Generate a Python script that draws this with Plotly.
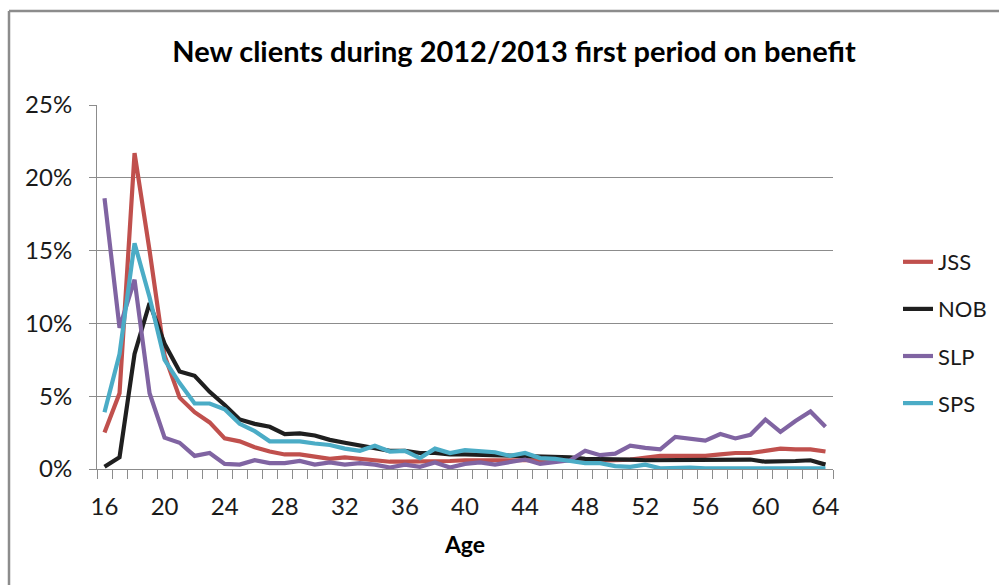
import plotly.graph_objects as go

ages = list(range(16, 65))

jss = [2.5, 5.2, 21.7, 15.0, 7.8, 4.9, 3.9, 3.2, 2.1, 1.9, 1.5, 1.2, 1.0,
       1.0, 0.85, 0.7, 0.8, 0.7, 0.6, 0.5, 0.5, 0.5, 0.5, 0.55, 0.6, 0.6,
       0.6, 0.65, 0.6, 0.65, 0.6, 0.6, 0.55, 0.55, 0.6, 0.65, 0.8, 0.9,
       0.9, 0.9, 0.9, 1.0, 1.1, 1.1, 1.25, 1.4, 1.35, 1.35, 1.2]
nob = [0.15, 0.8, 7.9, 11.4, 8.6, 6.7, 6.4, 5.3, 4.4, 3.4, 3.1, 2.9, 2.4,
       2.45, 2.3, 2.0, 1.8, 1.6, 1.4, 1.25, 1.25, 1.1, 1.1, 1.0, 1.0, 0.98,
       0.9, 0.9, 0.85, 0.9, 0.85, 0.8, 0.7, 0.7, 0.7, 0.65, 0.6, 0.6, 0.6,
       0.6, 0.6, 0.6, 0.6, 0.65, 0.5, 0.5, 0.55, 0.6, 0.3]
slp = [18.6, 9.7, 13.0, 5.2, 2.15, 1.8, 0.9, 1.1, 0.35, 0.3, 0.6, 0.4, 0.4,
       0.55, 0.3, 0.45, 0.3, 0.4, 0.3, 0.1, 0.3, 0.15, 0.45, 0.1, 0.35, 0.45,
       0.3, 0.45, 0.65, 0.35, 0.45, 0.6, 1.25, 0.95, 1.05, 1.6, 1.45, 1.35,
       2.2, 2.05, 1.95, 2.4, 2.1, 2.35, 3.4, 2.55, 3.3, 3.95, 2.9]
sps = [3.9, 7.9, 15.5, 11.8, 7.5, 5.9, 4.5, 4.5, 4.1, 3.1, 2.6, 1.9, 1.9,
       1.9, 1.75, 1.65, 1.4, 1.25, 1.6, 1.2, 1.25, 0.75, 1.4, 1.1, 1.3, 1.25,
       1.15, 0.9, 1.1, 0.75, 0.7, 0.55, 0.4, 0.4, 0.2, 0.15, 0.3, 0.05, 0.1,
       0.1, 0.05, 0.05, 0.05, 0.05, 0.05, 0.05, 0.05, 0.05, 0.05]

series = [("JSS", jss, "#C0504D"), ("NOB", nob, "#1F1F1F"),
          ("SLP", slp, "#8064A2"), ("SPS", sps, "#4BACC6")]

x_tick_vals = list(range(16, 65, 4))
y_tick_vals = [0, 5, 10, 15, 20, 25]
y_tick_text = ["0%", "5%", "10%", "15%", "20%", "25%"]

FONT = "Lato, 'Open Sans', sans-serif"
W, H = 999, 585
ML, MR, MT, MB = 97, 166, 105, 116
PW, PH = W - ML - MR, H - MT - MB

fig = go.Figure()
for name, vals, col in series:
    fig.add_trace(go.Scatter(x=ages, y=vals, name=name, mode="lines",
                             legendgroup=name,
                             line=dict(color=col, width=4.2)))

def px_x(p):
    return (p - ML) / PW

def px_y(p):
    return (H - MB - p) / PH

fig.update_layout(
    width=W, height=H,
    margin=dict(l=ML, r=MR, t=MT, b=MB),
    paper_bgcolor="white", plot_bgcolor="white",
    font=dict(family=FONT, size=24, color="#1a1a1a"),
    title=dict(text="<b>New clients during 2012/2013 first period on benefit</b>",
               xref="container", yref="container",
               x=514 / W, y=1 - 52 / H, xanchor="center", yanchor="middle",
               font=dict(size=29, family=FONT, color="#000")),
    legend=dict(xref="container", yref="container",
                x=898 / W, y=1 - 241 / H, xanchor="left", yanchor="top",
                font=dict(size=22, family=FONT), tracegroupgap=15.5,
                bgcolor="rgba(0,0,0,0)"),
    xaxis=dict(range=[15.5, 64.5], tickmode="array", tickvals=x_tick_vals,
               ticks="", showgrid=False, zeroline=False,
               showline=True, linecolor="#8c8c8c", linewidth=1,
               ticklabelstandoff=16,
               minor=dict(tickmode="linear", tick0=15.5, dtick=1,
                          ticks="outside", ticklen=9, tickcolor="#8c8c8c",
                          tickwidth=1, showgrid=False),
               title=dict(text="<b>Age</b>", standoff=18,
                          font=dict(size=23, family=FONT, color="#000"))),
    yaxis=dict(range=[0, 25], tickmode="array", tickvals=y_tick_vals,
               ticktext=y_tick_text, showgrid=True, gridcolor="#8c8c8c",
               gridwidth=1, zeroline=False, showline=True,
               linecolor="#8c8c8c", linewidth=1, ticks="outside",
               ticklen=7, tickcolor="#8c8c8c", ticklabelstandoff=12),
    shapes=[
        dict(type="line", xref="paper", yref="paper",
             x0=px_x(9), x1=px_x(9), y0=px_y(11), y1=px_y(H + 5),
             line=dict(color="#8c8c8c", width=2.5)),
        dict(type="line", xref="paper", yref="paper",
             x0=px_x(9), x1=px_x(W + 5), y0=px_y(11), y1=px_y(11),
             line=dict(color="#8c8c8c", width=2.5)),
    ],
)

fig.write_html("out.html")
